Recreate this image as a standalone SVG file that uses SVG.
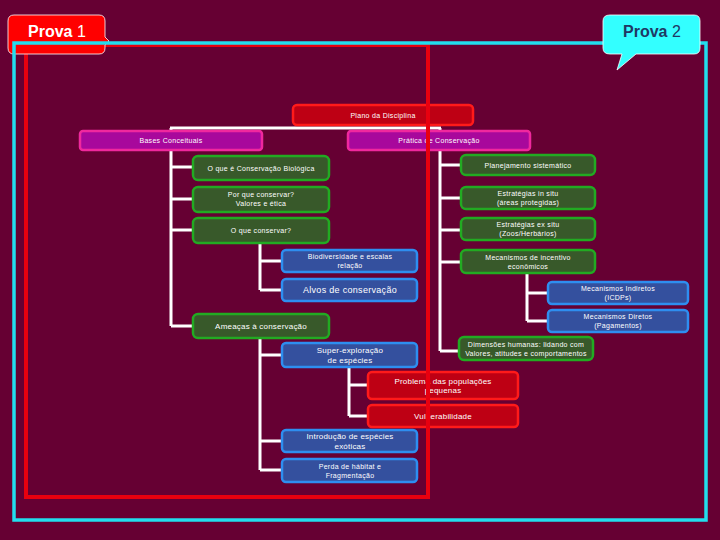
<svg xmlns="http://www.w3.org/2000/svg" width="720" height="540" viewBox="0 0 720 540">
<style>
  text { font-family: "Liberation Sans", Arial, sans-serif; fill: #ffffff; text-anchor: middle; }
  .t7 { font-size: 7px; letter-spacing: 0.3px; }
  .t8 { font-size: 8px; letter-spacing: 0.2px; }
  .t9 { font-size: 9px; letter-spacing: 0.3px; }
  .red rect { fill: #BE0014; stroke: #FF1A1A; stroke-width: 2.5; }
  .mag rect { fill: #A8089C; stroke: #F0289E; stroke-width: 2.5; }
  .grn rect { fill: #38592A; stroke: #22AA22; stroke-width: 2.5; }
  .blu rect { fill: #34509E; stroke: #2E8EF0; stroke-width: 2.5; }
  .conn path { fill: none; stroke: #ffffff; stroke-width: 3; }
</style>
<rect x="0" y="0" width="720" height="540" fill="#660033"/>

<g id="connectors" class="conn">
  <path d="M170,128 H441"/>
  <path d="M171,128 V326 M171,167 H193 M171,199 H193 M171,230 H193 M171,326 H193"/>
  <path d="M440,128 V351 M440,165 H461 M440,198 H461 M440,230 H461 M440,262 H461 M440,351 H459"/>
  <path d="M260,242 V290 M260,261 H282 M260,290 H282"/>
  <path d="M527,273 V321 M527,293 H548 M527,321 H548"/>
  <path d="M260,338 V470 M260,355 H282 M260,441 H282 M260,470 H282"/>
  <path d="M349,367 V416 M349,385 H368 M349,416 H368"/>
</g>

<g id="n-plano" class="red"><rect x="293" y="105" width="180" height="20" rx="4"/><text class="t7" x="383" y="117.5">Plano da Disciplina</text></g>
<g id="n-bases" class="mag"><rect x="80" y="131" width="182" height="19" rx="3"/><text class="t7" x="171" y="143">Bases Conceituais</text></g>
<g id="n-pratica" class="mag"><rect x="348" y="131" width="182" height="19" rx="3"/><text class="t7" x="439" y="143">Prática de Conservação</text></g>

<g id="n-oque" class="grn"><rect x="193" y="156" width="136" height="24" rx="5"/><text class="t7" x="261" y="170.5">O que é Conservação Biológica</text></g>
<g id="n-porque" class="grn"><rect x="193" y="187" width="136" height="25" rx="5"/><text class="t7" x="261" y="197">Por que conservar?</text><text class="t7" x="261" y="206">Valores e ética</text></g>
<g id="n-oqueconservar" class="grn"><rect x="193" y="218" width="136" height="25" rx="5"/><text class="t7" x="261" y="233">O que conservar?</text></g>
<g id="n-ameacas" class="grn"><rect x="193" y="314" width="136" height="24" rx="5"/><text class="t8" x="261" y="329">Ameaças à conservação</text></g>

<g id="n-planej" class="grn"><rect x="461" y="155" width="134" height="20" rx="5"/><text class="t7" x="528" y="167.5">Planejamento sistemático</text></g>
<g id="n-insitu" class="grn"><rect x="461" y="187" width="134" height="22" rx="5"/><text class="t7" x="528" y="196">Estratégias in situ</text><text class="t7" x="528" y="205">(áreas protegidas)</text></g>
<g id="n-exsitu" class="grn"><rect x="461" y="218" width="134" height="22" rx="5"/><text class="t7" x="528" y="227">Estratégias ex situ</text><text class="t7" x="528" y="236">(Zoos/Herbários)</text></g>
<g id="n-incentivo" class="grn"><rect x="461" y="250" width="134" height="23" rx="5"/><text class="t7" x="528" y="259.5">Mecanismos de incentivo</text><text class="t7" x="528" y="268.5">econômicos</text></g>
<g id="n-dimensoes" class="grn"><rect x="459" y="337" width="134" height="23" rx="5"/><text class="t7" x="526" y="346.5">Dimensões humanas: lidando com</text><text class="t7" x="526" y="355.5">Valores, atitudes e comportamentos</text></g>

<g id="n-biodiv" class="blu"><rect x="282" y="250" width="135" height="22" rx="4"/><text class="t7" x="350" y="259">Biodiversidade e escalas</text><text class="t7" x="350" y="268">relação</text></g>
<g id="n-alvos" class="blu"><rect x="282" y="279" width="135" height="22" rx="4"/><text class="t9" x="350" y="293">Alvos de conservação</text></g>
<g id="n-indiretos" class="blu"><rect x="548" y="282" width="140" height="22" rx="4"/><text class="t7" x="618" y="291">Mecanismos Indiretos</text><text class="t7" x="618" y="300">(ICDPs)</text></g>
<g id="n-diretos" class="blu"><rect x="548" y="310" width="140" height="22" rx="4"/><text class="t7" x="618" y="319">Mecanismos Diretos</text><text class="t7" x="618" y="328">(Pagamentos)</text></g>
<g id="n-super" class="blu"><rect x="282" y="343" width="135" height="24" rx="4"/><text class="t8" x="350" y="353">Super-exploração</text><text class="t8" x="350" y="362.5">de espécies</text></g>
<g id="n-introd" class="blu"><rect x="282" y="430" width="135" height="22" rx="4"/><text class="t8" x="350" y="439">Introdução de espécies</text><text class="t8" x="350" y="448.5">exóticas</text></g>
<g id="n-perda" class="blu"><rect x="282" y="459" width="135" height="23" rx="4"/><text class="t7" x="350" y="468.5">Perda de hábitat e</text><text class="t7" x="350" y="477.5">Fragmentação</text></g>

<g id="n-problema" class="red"><rect x="368" y="372" width="150" height="27" rx="4"/><text class="t8" x="443" y="383.5">Problema das populações</text><text class="t8" x="443" y="393">pequenas</text></g>
<g id="n-vulner" class="red"><rect x="368" y="405" width="150" height="22" rx="4"/><text class="t8" x="443" y="419">Vulnerabilidade</text></g>

<rect id="frame-red" x="26" y="45" width="402" height="452" fill="none" stroke="#E8000F" stroke-width="4"/>

<g id="prova1">
  <path d="M14,15 H99 Q105,15 105,21 V37 L109,41 L105,45 V48 Q105,54 99,54 H14 Q8,54 8,48 V21 Q8,15 14,15 Z" fill="#FF0000" stroke="#ffffff" stroke-width="0.8"/>
  <text x="28" y="37" style="font-size:16px;text-anchor:start"><tspan font-weight="bold">Prova</tspan> 1</text>
</g>

<rect id="frame-cyan" x="14" y="43" width="692" height="477" fill="none" stroke="#22DDEE" stroke-width="3.5"/>

<g id="prova2">
  <path d="M610,15 H694 Q700,15 700,21 V48 Q700,54 694,54 H636 L617,70 L622,54 H610 Q603,54 603,48 V21 Q603,15 610,15 Z" fill="#33FFFF" stroke="#ffffff" stroke-width="0.8"/>
  <text x="623" y="37" style="font-size:16px;text-anchor:start;fill:#1F3864"><tspan font-weight="bold">Prova</tspan> 2</text>
</g>
</svg>
